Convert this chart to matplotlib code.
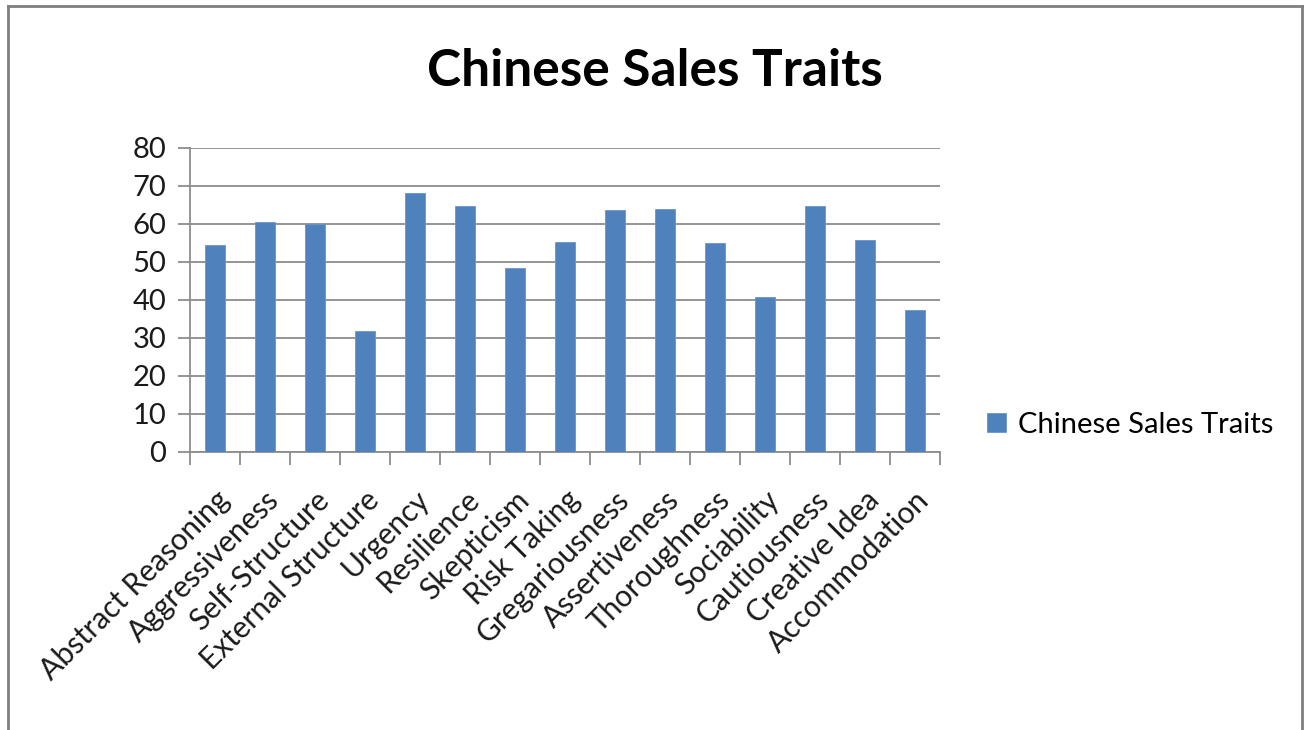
import matplotlib
matplotlib.use("Agg")
import matplotlib.pyplot as plt
import numpy as np

## data
traits = ["Abstract Reasoning", "Aggressiveness", "Self-Structure", "External Structure",
          "Urgency", "Resilience", "Skepticism", "Risk Taking", "Gregariousness",
          "Assertiveness", "Thoroughness", "Sociability", "Cautiousness",
          "Creative Idea", "Accommodation"]
scores = [54.4, 60.5, 60.0, 31.8, 68.2, 64.7, 48.5, 55.3, 63.6,
          63.9, 54.9, 40.9, 64.8, 55.8, 37.4]
series_name = "Chinese Sales Traits"
yticks = [0, 10, 20, 30, 40, 50, 60, 70, 80]

plt.rcParams['font.family'] = ['Lato', 'DejaVu Sans']
W, H = 1304, 730
fig = plt.figure(figsize=(W / 100, H / 100), dpi=100)

## outer grey frame (open at the bottom, like the screenshot)
frame_kw = dict(transform=fig.transFigure, color='#7f7f7f', lw=2)
fig.add_artist(plt.Line2D([8 / W, 8 / W], [0, 1 - 6 / H], **frame_kw))
fig.add_artist(plt.Line2D([8 / W, 1302 / W], [1 - 6 / H, 1 - 6 / H], **frame_kw))
fig.add_artist(plt.Line2D([1302 / W, 1302 / W], [0, 1 - 6 / H], **frame_kw))

ax = fig.add_axes([190 / W, 1 - 452 / H, 750 / W, 304 / H])
x = np.arange(len(traits))
ax.bar(x, scores, width=0.39, color='#4f81bd', edgecolor='#6a96cc', linewidth=0.6,
       label=series_name, zorder=3)

ax.set_xlim(-0.5, len(traits) - 0.5)
ax.set_ylim(0, 80)
ax.set_yticks(yticks)
ax.set_yticklabels([str(v) for v in yticks], fontsize=21, color='#1a1a1a')
ax.yaxis.grid(True, color='#8c8c8c', linewidth=1.3, zorder=0)

# category boundaries get the ticks, labels sit at the centres
ax.set_xticks(np.arange(len(traits) + 1) - 0.5)
ax.set_xticklabels([])
ax.set_xticks(x, minor=True)
ax.set_xticklabels(traits, minor=True, rotation=45, ha='right', va='top',
                   rotation_mode='anchor', fontsize=21.5, color='#1a1a1a')
ax.tick_params(axis='x', which='major', length=9, width=1.3, color='#8c8c8c', direction='out')
ax.tick_params(axis='x', which='minor', length=0, pad=24)
ax.tick_params(axis='y', length=9, width=1.3, color='#8c8c8c', pad=8)

for s in ['top', 'right']:
    ax.spines[s].set_visible(False)
for s in ['left', 'bottom']:
    ax.spines[s].set_color('#8c8c8c')
    ax.spines[s].set_linewidth(1.3)

fig.text(655 / W, 1 - 72 / H, series_name, ha='center', va='center',
         fontsize=37, fontweight='bold')

fig.legend(loc='center left', bbox_to_anchor=(961 / W, 1 - 425 / H), frameon=False,
           fontsize=21, handlelength=0.65, handleheight=0.65, handletextpad=0.4)

fig.savefig("out.png", dpi=100, facecolor='white')
